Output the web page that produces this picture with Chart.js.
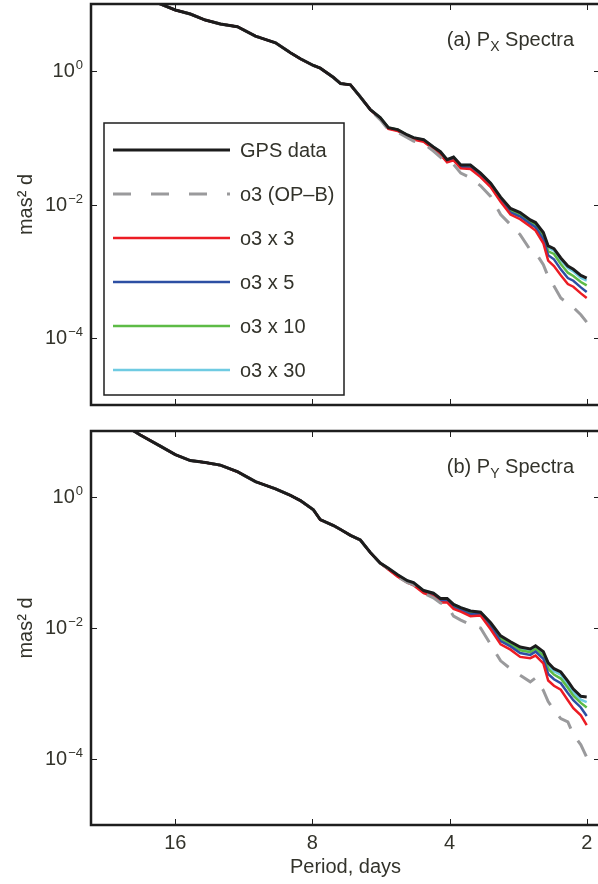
<!DOCTYPE html>
<html>
<head>
<meta charset="utf-8">
<script src="https://cdn.jsdelivr.net/npm/chart.js@4.4.0/dist/chart.umd.min.js"></script>
<style>
  html, body { margin: 0; padding: 0; background: #fff; overflow: hidden; }
  canvas { display: block; }
</style>
</head>
<body>
<canvas id="pxChart" width="606" height="418"></canvas>
<canvas id="pyChart" width="606" height="466"></canvas>
<script>
// period grid (days), shared by all curves
const periods = [20.6, 19.1, 17.26, 16.0, 14.83, 13.75, 12.74, 11.69, 10.67, 9.64, 8.94, 8.50, 7.96, 7.69, 7.19, 6.94, 6.60, 6.28, 5.97, 5.68, 5.45, 5.20, 4.95, 4.80, 4.56, 4.34, 4.19, 4.05, 3.92, 3.78, 3.60, 3.42, 3.25, 3.09, 2.94, 2.80, 2.66, 2.59, 2.49, 2.43, 2.36, 2.28, 2.20, 2.14, 2.06, 2.00];

// spectra, given as log10(mas^2 d)
const pxGps  = [1.30, 1.15, 1.00, 0.91, 0.85, 0.76, 0.70, 0.66, 0.52, 0.42, 0.27, 0.18, 0.08, 0.04, -0.10, -0.19, -0.21, -0.39, -0.58, -0.70, -0.85, -0.88, -0.96, -1.00, -1.03, -1.14, -1.21, -1.33, -1.29, -1.41, -1.41, -1.53, -1.68, -1.89, -2.06, -2.12, -2.23, -2.27, -2.42, -2.62, -2.66, -2.80, -2.92, -2.97, -3.06, -3.10];
const pxOp   = [1.30, 1.15, 1.00, 0.91, 0.85, 0.76, 0.70, 0.66, 0.52, 0.42, 0.27, 0.18, 0.08, 0.04, -0.10, -0.19, -0.21, -0.39, -0.59, -0.73, -0.88, -0.92, -1.00, -1.05, -1.09, -1.20, -1.29, -1.38, -1.40, -1.53, -1.60, -1.72, -1.88, -2.15, -2.30, -2.45, -2.68, -2.72, -2.90, -3.08, -3.22, -3.40, -3.48, -3.54, -3.65, -3.76];
const pxX3   = [1.30, 1.15, 1.00, 0.91, 0.85, 0.76, 0.70, 0.66, 0.52, 0.42, 0.27, 0.18, 0.08, 0.04, -0.10, -0.19, -0.21, -0.39, -0.58, -0.72, -0.87, -0.90, -0.98, -1.03, -1.06, -1.17, -1.25, -1.37, -1.34, -1.46, -1.47, -1.59, -1.74, -1.96, -2.15, -2.22, -2.33, -2.39, -2.58, -2.84, -2.92, -3.06, -3.19, -3.23, -3.33, -3.40];
const pxX5   = [1.30, 1.15, 1.00, 0.91, 0.85, 0.76, 0.70, 0.66, 0.52, 0.42, 0.27, 0.18, 0.08, 0.04, -0.10, -0.19, -0.21, -0.39, -0.58, -0.71, -0.86, -0.89, -0.97, -1.02, -1.05, -1.16, -1.23, -1.36, -1.32, -1.44, -1.45, -1.57, -1.72, -1.94, -2.12, -2.18, -2.29, -2.34, -2.52, -2.76, -2.82, -2.97, -3.10, -3.14, -3.24, -3.31];
const pxX10  = [1.30, 1.15, 1.00, 0.91, 0.85, 0.76, 0.70, 0.66, 0.52, 0.42, 0.27, 0.18, 0.08, 0.04, -0.10, -0.19, -0.21, -0.39, -0.58, -0.70, -0.85, -0.88, -0.96, -1.01, -1.04, -1.15, -1.22, -1.34, -1.30, -1.42, -1.43, -1.55, -1.70, -1.91, -2.09, -2.15, -2.26, -2.30, -2.47, -2.70, -2.74, -2.89, -3.02, -3.07, -3.16, -3.21];
const pxX30  = [1.30, 1.15, 1.00, 0.91, 0.85, 0.76, 0.70, 0.66, 0.52, 0.42, 0.27, 0.18, 0.08, 0.04, -0.10, -0.19, -0.21, -0.39, -0.58, -0.70, -0.85, -0.88, -0.96, -1.00, -1.03, -1.14, -1.21, -1.33, -1.29, -1.41, -1.41, -1.53, -1.68, -1.90, -2.07, -2.13, -2.24, -2.28, -2.44, -2.65, -2.69, -2.83, -2.95, -3.00, -3.10, -3.14];

const pyGps  = [1.08, 0.94, 0.77, 0.64, 0.55, 0.52, 0.48, 0.38, 0.23, 0.12, 0.02, -0.06, -0.20, -0.35, -0.44, -0.50, -0.59, -0.66, -0.85, -1.01, -1.09, -1.19, -1.28, -1.31, -1.43, -1.47, -1.55, -1.55, -1.64, -1.69, -1.74, -1.76, -1.92, -2.12, -2.21, -2.29, -2.32, -2.27, -2.36, -2.53, -2.62, -2.67, -2.81, -2.93, -3.04, -3.05];
const pyOp   = [1.08, 0.94, 0.77, 0.64, 0.55, 0.52, 0.48, 0.38, 0.23, 0.12, 0.02, -0.06, -0.20, -0.35, -0.44, -0.50, -0.59, -0.66, -0.85, -1.01, -1.10, -1.22, -1.31, -1.34, -1.47, -1.54, -1.62, -1.66, -1.82, -1.88, -1.95, -2.00, -2.25, -2.50, -2.62, -2.72, -2.82, -2.76, -2.95, -3.12, -3.25, -3.38, -3.43, -3.62, -3.78, -3.97];
const pyX3   = [1.08, 0.94, 0.77, 0.64, 0.55, 0.52, 0.48, 0.38, 0.23, 0.12, 0.02, -0.06, -0.20, -0.35, -0.44, -0.50, -0.59, -0.66, -0.85, -1.01, -1.11, -1.22, -1.31, -1.35, -1.47, -1.52, -1.61, -1.61, -1.71, -1.75, -1.82, -1.81, -2.02, -2.25, -2.33, -2.44, -2.46, -2.42, -2.54, -2.80, -2.88, -2.94, -3.10, -3.22, -3.33, -3.48];
const pyX5   = [1.08, 0.94, 0.77, 0.64, 0.55, 0.52, 0.48, 0.38, 0.23, 0.12, 0.02, -0.06, -0.20, -0.35, -0.44, -0.50, -0.59, -0.66, -0.85, -1.01, -1.10, -1.21, -1.30, -1.33, -1.45, -1.50, -1.59, -1.59, -1.69, -1.73, -1.79, -1.79, -1.98, -2.20, -2.28, -2.38, -2.41, -2.36, -2.47, -2.70, -2.78, -2.84, -2.99, -3.10, -3.21, -3.34];
const pyX10  = [1.08, 0.94, 0.77, 0.64, 0.55, 0.52, 0.48, 0.38, 0.23, 0.12, 0.02, -0.06, -0.20, -0.35, -0.44, -0.50, -0.59, -0.66, -0.85, -1.01, -1.10, -1.20, -1.29, -1.32, -1.44, -1.49, -1.57, -1.57, -1.67, -1.71, -1.77, -1.78, -1.95, -2.16, -2.25, -2.34, -2.37, -2.32, -2.42, -2.62, -2.71, -2.77, -2.91, -3.03, -3.14, -3.21];
const pyX30  = [1.08, 0.94, 0.77, 0.64, 0.55, 0.52, 0.48, 0.38, 0.23, 0.12, 0.02, -0.06, -0.20, -0.35, -0.44, -0.50, -0.59, -0.66, -0.85, -1.01, -1.09, -1.19, -1.28, -1.31, -1.43, -1.47, -1.55, -1.55, -1.64, -1.69, -1.74, -1.76, -1.93, -2.14, -2.23, -2.31, -2.34, -2.29, -2.39, -2.57, -2.66, -2.71, -2.86, -2.98, -3.09, -3.13];

const seriesLabels = ['GPS data', 'o3 (OP\u2013B)', 'o3 x 3', 'o3 x 5', 'o3 x 10', 'o3 x 30'];
const xTickValues = [16, 8, 4, 2];
const yTickValues = [1e-4, 1e-2, 1];

const FONT = '"Liberation Sans", Arial, Helvetica, sans-serif';
const TEXT = '#33332b';
const styles = [
    { color: '#1c1c1c', width: 3,   dash: [] },
    { color: '#9a9a9c', width: 3,   dash: [18, 14] },
    { color: '#ec1c24', width: 2.5, dash: [] },
    { color: '#2d4fa3', width: 2.5, dash: [] },
    { color: '#5dbb46', width: 2.5, dash: [] },
    { color: '#6fcbe2', width: 2.5, dash: [] },
];

function toPoints(exps) {
    return periods.map((p, i) => ({ x: p, y: Math.pow(10, exps[i]) }));
}

function makeDatasets(list) {
    return list.map((exps, i) => ({
        label: seriesLabels[i],
        data: toPoints(exps),
        borderColor: styles[i].color,
        borderWidth: styles[i].width,
        borderDash: styles[i].dash,
        pointRadius: 0,
        tension: 0,
        fill: false
    }));
}

// frame, inward tick marks, y labels with superscripts, panel title, legend
const spectraDecor = {
    id: 'spectraDecor',
    afterDatasetsDraw(chart, args, opts) {
        const { ctx, chartArea: a, scales } = chart;
        ctx.save();

        ctx.strokeStyle = '#1e1e1e';
        ctx.lineWidth = 1;
        ctx.setLineDash([]);
        scales.x.ticks.forEach(t => {
            const px = Math.round(scales.x.getPixelForValue(t.value)) + 0.5;
            ctx.beginPath();
            ctx.moveTo(px, a.bottom); ctx.lineTo(px, a.bottom - 6);
            ctx.moveTo(px, a.top); ctx.lineTo(px, a.top + 6);
            ctx.stroke();
        });
        scales.y.ticks.forEach(t => {
            const py = Math.round(scales.y.getPixelForValue(t.value)) + 0.5;
            ctx.beginPath();
            ctx.moveTo(a.left, py); ctx.lineTo(a.left + 6, py);
            ctx.moveTo(a.right, py); ctx.lineTo(a.right - 6, py);
            ctx.stroke();
        });

        ctx.lineWidth = 2.5;
        ctx.strokeRect(a.left, a.top, a.right - a.left, a.bottom - a.top);

        // y tick labels: 10^n
        ctx.fillStyle = TEXT;
        ctx.textBaseline = 'alphabetic';
        ctx.textAlign = 'left';
        scales.y.ticks.forEach(t => {
            const py = scales.y.getPixelForValue(t.value);
            const n = Math.round(Math.log10(t.value));
            const expText = n < 0 ? '\u2212' + (-n) : String(n);
            ctx.font = '13px ' + FONT;
            const wExp = ctx.measureText(expText).width;
            ctx.font = '20px ' + FONT;
            const wBase = ctx.measureText('10').width;
            const right = a.left - 8;
            ctx.fillText('10', right - wExp - wBase - 1, py + 6);
            ctx.font = '13px ' + FONT;
            ctx.fillText(expText, right - wExp, py - 2);
        });

        // panel title with subscript
        const [pre, sub, post] = opts.title;
        ctx.font = '20px ' + FONT;
        const w1 = ctx.measureText(pre).width;
        const w3 = ctx.measureText(post).width;
        ctx.font = '14px ' + FONT;
        const w2 = ctx.measureText(sub).width;
        const tx = 574 - (w1 + w2 + w3);
        const ty = a.top + 42;
        ctx.font = '20px ' + FONT;
        ctx.fillText(pre, tx, ty);
        ctx.font = '14px ' + FONT;
        ctx.fillText(sub, tx + w1, ty + 5);
        ctx.font = '20px ' + FONT;
        ctx.fillText(post, tx + w1 + w2, ty);

        if (opts.legend) {
            const bx = a.left + 13, by = a.top + 119, bw = 240, bh = 272;
            ctx.fillStyle = '#fff';
            ctx.fillRect(bx, by, bw, bh);
            ctx.lineWidth = 1.5;
            ctx.strokeStyle = '#1e1e1e';
            ctx.strokeRect(bx, by, bw, bh);
            chart.data.datasets.forEach((ds, i) => {
                const ry = by + 27 + 44 * i;
                ctx.strokeStyle = ds.borderColor;
                ctx.lineWidth = ds.borderWidth;
                ctx.setLineDash(ds.borderDash.length ? [18, 20] : []);
                ctx.beginPath();
                ctx.moveTo(bx + 9, ry);
                ctx.lineTo(bx + 126, ry);
                ctx.stroke();
                ctx.setLineDash([]);
                ctx.fillStyle = TEXT;
                ctx.font = '20px ' + FONT;
                ctx.textBaseline = 'middle';
                ctx.fillText(ds.label, bx + 136, ry + 1);
            });
        }
        ctx.restore();
    }
};

function makeChart(canvasId, list, opts) {
    return new Chart(document.getElementById(canvasId).getContext('2d'), {
        type: 'line',
        data: { datasets: makeDatasets(list) },
        plugins: [spectraDecor],
        options: {
            responsive: false,
            animation: false,
            events: [],
            layout: { padding: { left: 10, top: opts.padTop, right: 6, bottom: 0 } },
            plugins: {
                legend: { display: false },
                tooltip: { enabled: false },
                spectraDecor: { title: opts.title, legend: opts.legend }
            },
            scales: {
                x: {
                    type: 'logarithmic',
                    reverse: true,
                    min: 1.87,
                    max: 24.5,
                    border: { display: false },
                    grid: { display: false },
                    afterBuildTicks: (scale) => { scale.ticks = xTickValues.map(v => ({ value: v })); },
                    afterFit: (scale) => { scale.height = opts.xHeight; },
                    ticks: {
                        display: opts.xLabels,
                        autoSkip: false,
                        maxRotation: 0,
                        padding: -2,
                        color: TEXT,
                        font: { family: FONT, size: 20 },
                        callback: (v) => String(v)
                    },
                    title: {
                        display: opts.xLabels,
                        text: 'Period, days',
                        color: TEXT,
                        font: { family: FONT, size: 20 },
                        padding: { top: 0, bottom: 5 }
                    }
                },
                y: {
                    type: 'logarithmic',
                    min: 1e-5,
                    max: 10,
                    border: { display: false },
                    grid: { display: false },
                    afterBuildTicks: (scale) => { scale.ticks = yTickValues.map(v => ({ value: v })); },
                    afterFit: (scale) => { scale.width = 81; },
                    ticks: { display: false },
                    title: {
                        display: true,
                        text: 'mas\u00b2 d',
                        color: TEXT,
                        font: { family: FONT, size: 20 },
                        padding: { top: 4, bottom: 0 }
                    }
                }
            }
        }
    });
}

makeChart('pxChart', [pxGps, pxOp, pxX3, pxX5, pxX10, pxX30], {
    padTop: 4, xHeight: 13, xLabels: false, legend: true, title: ['(a) P', 'X', ' Spectra']
});
makeChart('pyChart', [pyGps, pyOp, pyX3, pyX5, pyX10, pyX30], {
    padTop: 13, xHeight: 59, xLabels: true, legend: false, title: ['(b) P', 'Y', ' Spectra']
});
</script>
</body>
</html>
